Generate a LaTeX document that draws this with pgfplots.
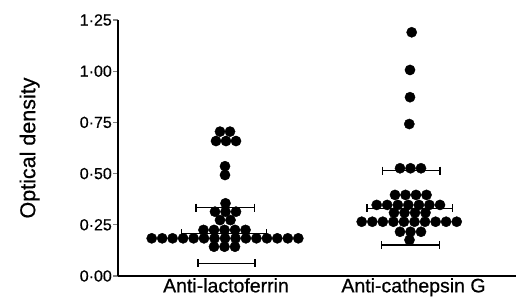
\documentclass[border=0pt]{standalone}
\usepackage{fontspec}
\setmainfont{Liberation Sans}[FakeBold=0.6]
\usepackage{pgfplots}
\pgfplotsset{compat=1.18}
\begin{document}
\begin{tikzpicture}[x=1pt,y=1pt]
\path[use as bounding box] (0,0) rectangle (526,299);
\begin{axis}[
  at={(118pt,23pt)}, anchor=south west,
  scale only axis, width=398pt, height=256pt,
  xmin=118, xmax=516, ymin=0, ymax=1.25,
  axis x line*=bottom, axis y line*=left,
  axis line style={line width=1.1pt, -},
  clip=false,
  ytick={0,0.25,0.5,0.75,1.0,1.25},
  yticklabels={0·00,0·25,0·50,0·75,1·00,1·25},
  xtick={226,413.5},
  xticklabels={Anti-lactoferrin,Anti-cathepsin G},
  tick align=outside,
  major tick length=5pt,
  ytick style={line width=1.1pt},
  xtick style={draw=none},
  yticklabel style={font=\fontsize{16}{18}\selectfont, inner sep=1pt},
  xticklabel style={font=\fontsize{19.5}{22}\selectfont, inner sep=0pt, yshift=3pt},
  ylabel={Optical density},
  ylabel style={font=\fontsize{21.5}{26}\selectfont, at={(axis description cs:-0.222,0.5)}, anchor=center},
  every axis plot/.append style={black},
]
% Anti-lactoferrin dots
\addplot[only marks, mark=*, mark size=5.1pt] coordinates {
(220,0.705) (230,0.705)
(216,0.659) (226,0.659) (236,0.659)
(225,0.536) (225,0.493)
(225.5,0.355)
(215,0.314) (225.5,0.314) (236,0.314)
(220,0.273) (230.5,0.273)
(203.5,0.225) (214,0.225) (224.5,0.225) (235,0.225) (245.5,0.225)
(151.7,0.184) (162.2,0.184) (172.6,0.184) (183.1,0.184) (193.6,0.184)
(204.0,0.184) (214.5,0.184) (225.0,0.184) (235.5,0.184) (245.9,0.184)
(256.4,0.184) (266.9,0.184) (277.3,0.184) (287.8,0.184) (298.3,0.184)
(214,0.143) (224.5,0.143) (235,0.143)
};
% Anti-cathepsin G dots
\addplot[only marks, mark=*, mark size=5.1pt] coordinates {
(411.7,1.19) (410,1.006) (410,0.873) (409.3,0.742)
(400,0.526) (410.5,0.526) (421,0.526)
(395,0.396) (405.5,0.396) (416,0.396) (426.5,0.396)
(376.7,0.347) (387.2,0.347) (397.8,0.347) (408.3,0.347) (418.9,0.347) (429.4,0.347) (440,0.347)
(394,0.309) (404.5,0.309) (415,0.309) (425.5,0.309)
(361.7,0.265) (372.3,0.265) (382.8,0.265) (393.4,0.265) (403.9,0.265)
(414.5,0.265) (425.0,0.265) (435.6,0.265) (446.1,0.265) (456.7,0.265)
(400,0.216) (410.5,0.216) (421,0.216)
(409.5,0.176)
};
% bars (mean and spread)
\addplot[line width=1.2pt, mark=|, mark size=4pt, mark options={line width=1.2pt}] coordinates {(196,0.334) (254.3,0.334)};
\addplot[line width=1.2pt, mark=|, mark size=4pt, mark options={line width=1.2pt}] coordinates {(181.7,0.208) (266.7,0.208)};
\addplot[line width=1.2pt, mark=|, mark size=4pt, mark options={line width=1.2pt}] coordinates {(198,0.062) (255,0.062)};
\addplot[line width=1.2pt, mark=|, mark size=4pt, mark options={line width=1.2pt}] coordinates {(382.7,0.514) (440,0.514)};
\addplot[line width=1.2pt, mark=|, mark size=4pt, mark options={line width=1.2pt}] coordinates {(367,0.331) (452.7,0.331)};
\addplot[line width=1.2pt, mark=|, mark size=4pt, mark options={line width=1.2pt}] coordinates {(381.7,0.151) (439.3,0.151)};
\end{axis}
\end{tikzpicture}
\end{document}
